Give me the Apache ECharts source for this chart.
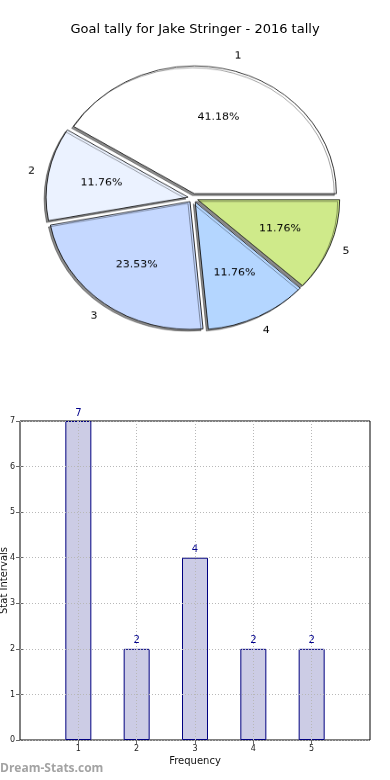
<!DOCTYPE html>
<html>
<head>
<meta charset="utf-8">
<script src="https://cdn.jsdelivr.net/npm/echarts@6/dist/echarts.min.js"></script>
<style>
  html, body { margin: 0; padding: 0; background: #fff; }
  #main { position: absolute; left: 0; top: 0; width: 390px; height: 780px; }
  #pie { position: absolute; left: 0; top: 0; width: 390px; height: 400px;
         transform: scaleY(0.9); transform-origin: 193px 198px; }
</style>
</head>
<body>
<div id="main"></div>
<div id="pie"></div>
<script>
// ---- data ----
const titleText = 'Goal tally for Jake Stringer - 2016 tally';
const intervals = [1, 2, 3, 4, 5];
const tallies = [7, 2, 4, 2, 2];
const yTickValues = [0, 1, 2, 3, 4, 5, 6, 7];
const xTickValues = [1, 2, 3, 4, 5];
const xAxisName = 'Frequency';
const yAxisName = 'Stat Intervals';
const watermark = 'Dream-Stats.com';

const FONT = 'DejaVu Sans';
const sliceColors = ['#ffffff', '#ebf2ff', '#c5d8ff', '#b4d6ff', '#cfea8a'];
const totalTally = tallies.reduce((a, b) => a + b, 0);

// ---- bar chart + title ----
const main = echarts.init(document.getElementById('main'), null, { renderer: 'canvas' });
const barData = intervals.map((x, i) => [x, tallies[i]]);
main.setOption({
  animation: false,
  title: {
    text: titleText, left: 'center', top: 23, padding: 0,
    textStyle: { fontFamily: FONT, fontSize: 13, fontWeight: 'normal', color: '#000' }
  },
  grid: { left: 20, right: 20, top: 421, bottom: 40, show: true, borderColor: '#000', borderWidth: 1,
    backgroundColor: 'transparent', containLabel: false, outerBoundsMode: 'none' },
  xAxis: [{
    type: 'value', min: 0, max: 6, interval: 1, position: 'bottom',
    name: xAxisName, nameLocation: 'middle', nameGap: 16, nameMoveOverlap: false,
    nameTextStyle: { fontFamily: FONT, fontSize: 10, color: '#111' },
    axisLine: { show: false },
    axisTick: { show: true, inside: true, length: 4, lineStyle: { color: '#666' },
      customValues: xTickValues },
    axisLabel: { show: true, fontFamily: FONT, fontSize: 8, color: '#222', margin: 5,
      customValues: xTickValues },
    splitLine: { show: false }
  }, {
    type: 'value', min: 0, max: 6, interval: 1, position: 'top', z: 5,
    axisLine: { show: false },
    axisTick: { show: true, inside: true, length: 4, lineStyle: { color: '#666' }, customValues: xTickValues },
    axisLabel: { show: false },
    splitLine: { show: true, lineStyle: { color: '#b8b8b8', type: [1, 2], width: 1 } }
  }],
  yAxis: [{
    type: 'value', min: 0, max: 7, interval: 1, position: 'left',
    name: yAxisName, nameLocation: 'middle', nameGap: 11, nameMoveOverlap: false,
    nameTextStyle: { fontFamily: FONT, fontSize: 10, color: '#111' },
    axisLine: { show: false },
    axisTick: { show: true, inside: true, length: 4, lineStyle: { color: '#666' } },
    axisLabel: { show: true, fontFamily: FONT, fontSize: 8, color: '#222', margin: 5,
      customValues: yTickValues },
    splitLine: { show: false }
  }, {
    type: 'value', min: 0, max: 7, interval: 1, position: 'right', z: 5,
    axisLine: { show: false },
    axisTick: { show: true, inside: true, length: 4, lineStyle: { color: '#666' } },
    axisLabel: { show: false },
    splitLine: { show: true, lineStyle: { color: '#b8b8b8', type: [1, 2], width: 1 } }
  }],
  series: [{
    type: 'bar', xAxisIndex: 0, yAxisIndex: 0,
    data: barData, barWidth: 26,
    itemStyle: { color: '#ccccE5', borderColor: '#000080', borderWidth: 1 },
    label: { show: true, position: 'top', distance: 3, fontFamily: FONT, fontSize: 10, color: '#00008b',
      formatter: p => String(p.value[1]) },
    emphasis: { disabled: true }, silent: true
  }],
  graphic: [{
    type: 'text', left: 0, top: 763,
    style: { text: watermark, fontFamily: 'Open Sans', fontWeight: 'bold', fontSize: 12, fill: '#a3a3a3' }
  }]
});

// ---- pie chart ----
const pie = echarts.init(document.getElementById('pie'), null, { renderer: 'canvas' });
const R = 142;
const pieCenter = [193, 198];
const mk = () => intervals.map((x, i) => ({ name: String(x), value: tallies[i], selected: true }));
const base = {
  type: 'pie', center: pieCenter, startAngle: 0, clockwise: false,
  selectedMode: 'multiple', selectedOffset: 5, silent: true,
  emphasis: { disabled: true }, labelLine: { show: false }, avoidLabelOverlap: false
};
pie.setOption({
  animation: false,
  color: sliceColors,
  series: [
    Object.assign({}, base, {
      radius: [0, R], data: mk(), z: 2,
      label: { show: false },
      itemStyle: { borderColor: '#000', borderWidth: 0.8, shadowColor: 'rgba(0,0,0,0.45)',
        shadowOffsetX: -2, shadowOffsetY: 2, shadowBlur: 0 }
    }),
    Object.assign({}, base, {
      radius: [0, R * 1.2], data: mk(), z: 3,
      itemStyle: { color: 'rgba(0,0,0,0)', borderWidth: 0 },
      label: { show: true, position: 'inside', fontFamily: FONT, fontSize: 11, color: '#000', rotate: 0,
        formatter: p => (p.value / totalTally * 100).toFixed(2) + '%' }
    }),
    Object.assign({}, base, {
      radius: [0, R * 2.2], data: mk(), z: 3,
      itemStyle: { color: 'rgba(0,0,0,0)', borderWidth: 0 },
      label: { show: true, position: 'inside', formatter: '{b}', fontFamily: FONT, fontSize: 11, color: '#000', rotate: 0 }
    })
  ]
});
</script>
</body>
</html>
